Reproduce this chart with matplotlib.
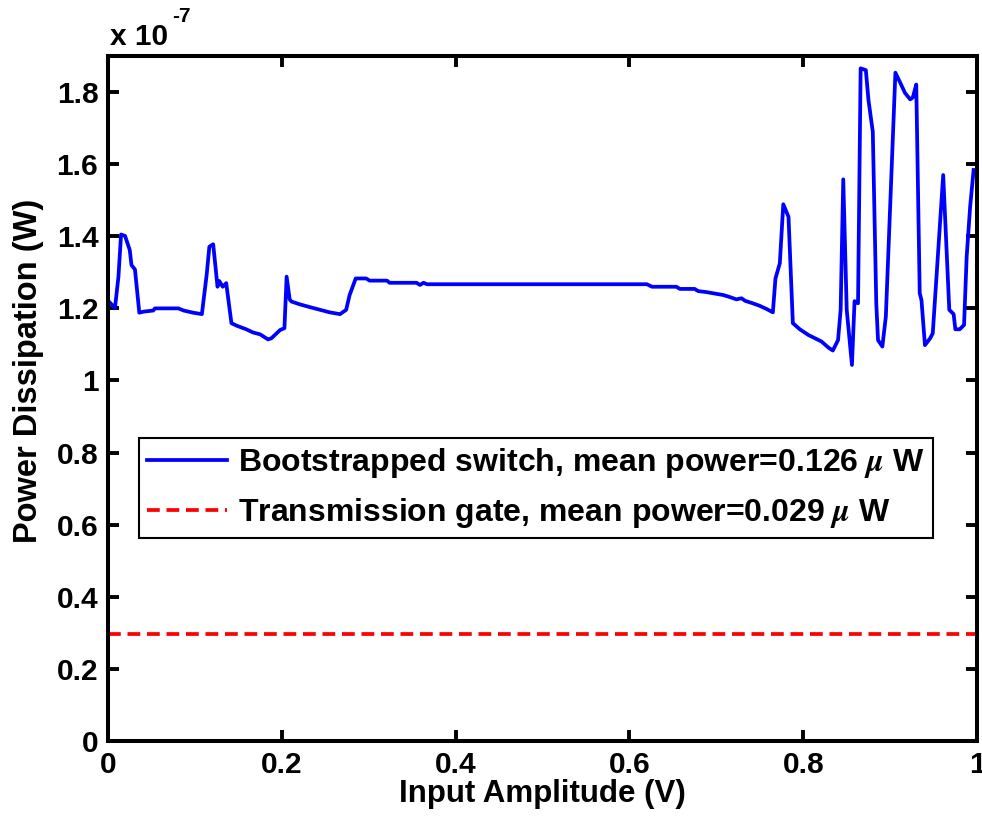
import matplotlib as mpl
mpl.use('Agg')

import matplotlib.pyplot as plt
from matplotlib.ticker import FuncFormatter

plt.rcParams['font.family'] = ['Liberation Sans', 'DejaVu Sans']
plt.rcParams['font.weight'] = 'bold'
plt.rcParams['mathtext.fontset'] = 'stix'

# Input amplitude (V) and power (units of 1e-7 W)
amp = [0.001, 0.008, 0.012, 0.015, 0.0196, 0.025, 0.027, 0.031, 0.036, 0.041,
       0.052, 0.054, 0.081, 0.087, 0.098, 0.108, 0.1135, 0.1166, 0.121, 0.126,
       0.128, 0.132, 0.136, 0.142, 0.148, 0.159, 0.167, 0.175, 0.184, 0.188,
       0.198, 0.203, 0.2055, 0.209, 0.211, 0.221, 0.233, 0.244, 0.255, 0.267,
       0.274, 0.278, 0.285, 0.297, 0.301, 0.321, 0.324, 0.355, 0.359, 0.363,
       0.367, 0.620, 0.626, 0.654, 0.658, 0.675, 0.679, 0.689, 0.696, 0.708,
       0.716, 0.723, 0.729, 0.733, 0.742, 0.750, 0.758, 0.765, 0.768, 0.773,
       0.777, 0.783, 0.788, 0.796, 0.806, 0.821, 0.829, 0.834, 0.840, 0.843,
       0.846, 0.850, 0.856, 0.859, 0.863, 0.866, 0.872, 0.875, 0.880, 0.884,
       0.886, 0.891, 0.895, 0.906, 0.911, 0.917, 0.923, 0.926, 0.930, 0.934,
       0.936, 0.940, 0.946, 0.949, 0.961, 0.968, 0.973, 0.975, 0.980, 0.985,
       0.988, 0.992, 0.996]
p_boot = [1.219, 1.201, 1.288, 1.405, 1.401, 1.362, 1.320, 1.308, 1.188, 1.191,
          1.194, 1.200, 1.200, 1.194, 1.188, 1.184, 1.293, 1.371, 1.378, 1.260,
          1.276, 1.260, 1.270, 1.159, 1.152, 1.142, 1.133, 1.128, 1.114, 1.117,
          1.140, 1.145, 1.288, 1.225, 1.219, 1.211, 1.203, 1.196, 1.189, 1.184,
          1.196, 1.237, 1.283, 1.283, 1.277, 1.277, 1.271, 1.271, 1.265, 1.271,
          1.267, 1.267, 1.260, 1.260, 1.254, 1.254, 1.248, 1.245, 1.242, 1.237,
          1.231, 1.225, 1.228, 1.221, 1.214, 1.207, 1.198, 1.189, 1.283, 1.325,
          1.489, 1.454, 1.159, 1.142, 1.126, 1.108, 1.091, 1.083, 1.112, 1.196,
          1.558, 1.196, 1.043, 1.220, 1.214, 1.866, 1.861, 1.778, 1.690, 1.214,
          1.112, 1.094, 1.177, 1.854, 1.829, 1.798, 1.780, 1.785, 1.821, 1.242,
          1.223, 1.098, 1.117, 1.131, 1.570, 1.196, 1.184, 1.142, 1.142, 1.154,
          1.343, 1.482, 1.584]
p_tg = 0.296

labels = ['Bootstrapped switch, mean power=0.126 $\\mu$ W',
          'Transmission gate, mean power=0.029 $\\mu$ W']

fig = plt.figure(figsize=(9.82, 8.25), dpi=100)
ax = fig.add_axes([0.110, 0.102, 0.885, 0.830])

ax.plot(amp, p_boot, color='#0000ff', lw=2.7, label=labels[0])
ax.axhline(p_tg, color='#ff0000', lw=2.7, ls=(0, (3.4, 1.8)), label=labels[1])

ax.set_xlim(0, 1)
ax.set_ylim(0, 1.9)
ax.set_xticks([0, 0.2, 0.4, 0.6, 0.8, 1])
ax.set_yticks([0, 0.2, 0.4, 0.6, 0.8, 1, 1.2, 1.4, 1.6, 1.8])
ax.xaxis.set_major_formatter(FuncFormatter(lambda v, p: '%g' % round(v, 2)))
ax.yaxis.set_major_formatter(FuncFormatter(lambda v, p: '%g' % round(v, 2)))
ax.tick_params(direction='in', length=8, width=2.8, labelsize=21.5,
               top=True, right=True, pad=7)
for s in ax.spines.values():
    s.set_linewidth(2.9)

ax.set_xlabel('Input Amplitude (V)', fontsize=22.5, fontweight='bold', labelpad=0)
ax.set_ylabel('Power Dissipation (W)', fontsize=23.5, fontweight='bold')
ax.yaxis.set_label_coords(-0.074, 0.54)

fig.text(110 / 982, 1 - 45 / 825, 'x 10', fontsize=21.5, fontweight='bold',
         ha='left', va='baseline')
fig.text(172 / 982, 1 - 22 / 825, '-7', fontsize=15, fontweight='bold',
         ha='left', va='baseline')

leg = ax.legend(loc='upper left', bbox_to_anchor=(0.036, 0.442), borderaxespad=0,
                fancybox=False, framealpha=1, edgecolor='black', fontsize=23,
                handlelength=2.5, handletextpad=0.35, borderpad=0.25,
                labelspacing=0.5)
leg.get_frame().set_linewidth(1.5)
for t in leg.get_texts():
    t.set_fontweight('bold')

plt.savefig('out.png')
